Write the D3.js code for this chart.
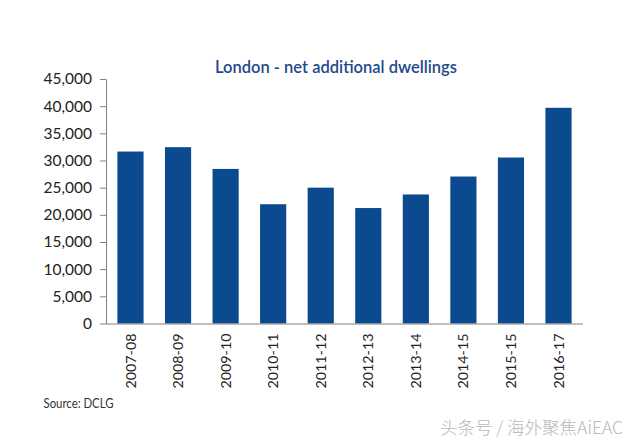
<!DOCTYPE html>
<html><head><meta charset="utf-8">
<script src="https://cdn.jsdelivr.net/npm/d3@7"></script>
<style>body{margin:0;background:#fff;} svg{display:block;}</style>
</head><body>
<svg id="c" width="634" height="443"></svg>
<script>
const categories = ["2007-08","2008-09","2009-10","2010-11","2011-12","2012-13","2013-14","2014-15","2015-15","2016-17"];
const values = [31650, 32450, 28450, 21950, 25000, 21250, 23750, 27050, 30550, 39700];
const yTicks = [0,5000,10000,15000,20000,25000,30000,35000,40000,45000];
const title = "London - net additional dwellings";
const source = "Source: DCLG";
const watermark = "头条号 / 海外聚焦AiEAC";

const svg = d3.select("#c");
const mLeft = 106, mRight = 583, mTop = 79, mBottom = 323.5;
const x = d3.scaleBand().domain(categories).range([mLeft, mRight]).paddingInner(0.45).paddingOuter(0.24);
const y = d3.scaleLinear().domain([0, 45000]).range([mBottom, mTop]);
const font = "Lato, 'Liberation Sans', sans-serif";

svg.append("text").attr("x", 336).attr("y", 73).attr("text-anchor","middle")
  .attr("font-family", font).attr("font-size", 16.5).attr("font-weight", 600)
  .attr("fill", "#1d4a8a").text(title);

svg.selectAll("rect.bar").data(values).join("rect").attr("class","bar")
  .attr("x", (d,i)=>x(categories[i])).attr("width", x.bandwidth())
  .attr("y", d=>y(d)).attr("height", d=>mBottom - y(d)).attr("fill", "#0b4a8e");

const ya = svg.append("g").attr("transform", `translate(${mLeft},0)`)
  .call(d3.axisLeft(y).tickValues(yTicks).tickFormat(d3.format(",")).tickSize(6).tickSizeOuter(0).tickPadding(8));
ya.select(".domain").attr("stroke", "#808080");
ya.selectAll(".tick line").attr("stroke", "#808080");
ya.selectAll("text").attr("font-family", font).attr("font-size", 15.5).attr("fill", "#222");

const xa = svg.append("g").attr("transform", `translate(0,${mBottom})`)
  .call(d3.axisBottom(x).tickSize(0).tickSizeOuter(0));
xa.select(".domain").attr("stroke", "#808080").attr("d", `M${mLeft},0.5H${mRight}`);
xa.selectAll("text").attr("font-family", font).attr("font-size", 14.3).attr("fill", "#222")
  .attr("transform", "rotate(-90)").attr("text-anchor", "end").attr("dy", "0.35em")
  .attr("x", -10).attr("y", 0);

svg.append("text").attr("x", 43.5).attr("y", 407.5).attr("font-family", font)
  .attr("font-size", 13.5).attr("textLength", 70).attr("lengthAdjust", "spacingAndGlyphs")
  .attr("fill", "#333").text(source);

svg.append("text").attr("x", 623).attr("y", 434).attr("text-anchor","end")
  .attr("font-family", "'Noto Sans CJK SC', sans-serif").attr("font-size", 17.5)
  .attr("font-weight", 300).attr("fill", "#b8b8b8").text(watermark);
</script>
</body></html>
